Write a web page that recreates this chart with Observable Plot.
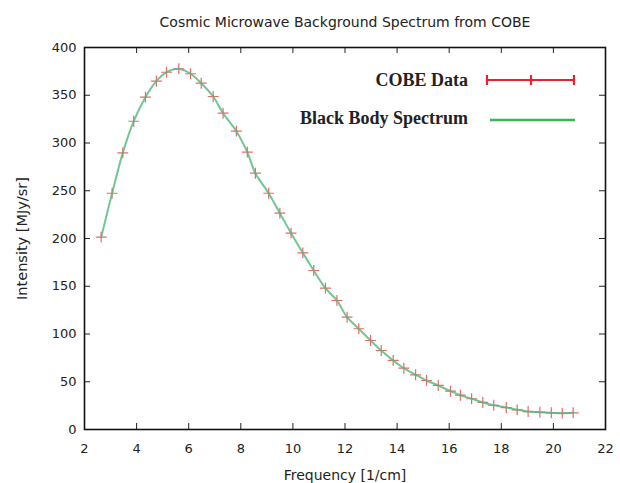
<!DOCTYPE html>
<html>
<head>
<meta charset="utf-8">
<script src="https://cdn.jsdelivr.net/npm/d3@7"></script>
<script src="https://cdn.jsdelivr.net/npm/@observablehq/plot@0.6"></script>
<style>
  html, body { margin: 0; padding: 0; background: #fff; }
</style>
</head>
<body>
<div id="chart"></div>
<script>
const title = "Cosmic Microwave Background Spectrum from COBE";
const xLabel = "Frequency [1/cm]";
const yLabel = "Intensity [MJy/sr]";
const seriesNames = ["COBE Data", "Black Body Spectrum"];

// COBE data (frequency in 1/cm, intensity in MJy/sr)
const frequency = [2.64, 3.06, 3.47, 3.89, 4.34, 4.76, 5.15, 5.62, 6.07, 6.48,
  6.94, 7.32, 7.83, 8.25, 8.56, 9.07, 9.50, 9.93, 10.38, 10.80,
  11.25, 11.69, 12.08, 12.53, 12.98, 13.39, 13.85, 14.26, 14.71, 15.13,
  15.58, 16.05, 16.43, 16.86, 17.29, 17.71, 18.19, 18.61, 19.03, 19.48,
  19.92, 20.34, 20.76];
const intensity = [201.4, 247.4, 289.7, 322.8, 348.0, 364.7, 374.1, 377.7, 372.5, 362.6,
  348.7, 331.2, 312.4, 290.4, 268.4, 247.4, 226.5, 205.6, 185.0, 166.5,
  148.0, 135.1, 117.6, 105.5, 93.2, 82.7, 72.3, 64.2, 57.3, 51.3,
  46.1, 40.1, 35.9, 32.2, 28.3, 25.4, 23.0, 20.6, 18.8, 18.1,
  17.5, 17.1, 17.5];
// Black body curve as seen in the picture (passes through the data)
const blackBody = [201.4, 247.4, 289.7, 322.8, 348.0, 364.7, 374.1, 377.7, 372.5, 362.6,
  348.7, 331.2, 312.4, 290.4, 268.4, 247.4, 226.5, 205.6, 185.0, 166.5,
  148.0, 135.1, 117.6, 105.5, 93.2, 82.7, 72.3, 64.2, 57.3, 51.3,
  46.1, 40.1, 35.9, 32.2, 28.3, 25.4, 23.0, 20.6, 18.8, 18.1,
  17.5, 17.1, 17.5];

const xTicks = [2, 4, 6, 8, 10, 12, 14, 16, 18, 20, 22];
const yTicks = [0, 50, 100, 150, 200, 250, 300, 350, 400];

const data = frequency.map((f, i) => ({f, v: intensity[i], bb: blackBody[i]}));

const W = 620, H = 483;
const mL = 84, mR = 15, mT = 47, mB = 54;
const plotW = W - mL - mR, plotH = H - mT - mB;
const tick = 6;
const red = "#e8232b", green = "#3fb35a";
const font = "DejaVu Sans, sans-serif";

const svg = Plot.plot({
  width: W, height: H,
  marginLeft: mL, marginRight: mR, marginTop: mT, marginBottom: mB,
  style: {fontFamily: font, fontSize: "13px", background: "#fff", color: "#222"},
  x: {domain: [2, 22], label: null},
  y: {domain: [0, 400], label: null},
  marks: [
    // inward ticks on all four sides
    Plot.tickX(xTicks, {x: d => d, insetTop: plotH - tick, stroke: "#222", strokeWidth: 1}),
    Plot.tickX(xTicks, {x: d => d, insetBottom: plotH - tick, stroke: "#222", strokeWidth: 1}),
    Plot.tickY(yTicks, {y: d => d, insetRight: plotW - tick, stroke: "#222", strokeWidth: 1}),
    Plot.tickY(yTicks, {y: d => d, insetLeft: plotW - tick, stroke: "#222", strokeWidth: 1}),
    Plot.axisX({ticks: xTicks, tickSize: 0, tickPadding: 14, tickFormat: d => d, fill: "#222"}),
    Plot.axisY({ticks: yTicks, tickSize: 0, tickPadding: 8, tickFormat: d => d, fill: "#222"}),
    Plot.dot(data, {x: "f", y: "v", symbol: "plus", r: 3.6, stroke: red, strokeWidth: 1.2, strokeOpacity: 0.7}),
    Plot.line(data, {x: "f", y: "bb", curve: "catmull-rom", stroke: "#4fb878", strokeWidth: 2, strokeOpacity: 0.8}),
    Plot.frame({stroke: "#111", strokeWidth: 1.6}),
    Plot.text([title], {frameAnchor: "top", dy: -30, fontSize: 14, fill: "#222"}),
    Plot.text([xLabel], {frameAnchor: "bottom", dy: 50, fontSize: 14, fill: "#222"}),
    Plot.text([yLabel], {frameAnchor: "left", dx: -62, rotate: -90, textAnchor: "middle", fontSize: 14.5, fill: "#222"})
  ]
});

// key (legend), gnuplot style, inside top-right
const g = d3.select(svg).append("g").attr("font-family", "Liberation Serif, Times New Roman, serif")
  .attr("font-weight", "bold").attr("font-size", 18).attr("fill", "#222");
g.append("text").attr("x", 468).attr("y", 86).attr("text-anchor", "end").text(seriesNames[0]);
g.append("text").attr("x", 468).attr("y", 124).attr("text-anchor", "end").text(seriesNames[1]);
const k = g.append("g").attr("stroke", red).attr("stroke-width", 2.2);
k.append("line").attr("x1", 487).attr("x2", 574).attr("y1", 80).attr("y2", 80);
[487, 531, 574].forEach(x => k.append("line").attr("x1", x).attr("x2", x).attr("y1", 75).attr("y2", 85));
g.append("line").attr("x1", 490).attr("x2", 575).attr("y1", 120).attr("y2", 120)
  .attr("stroke", green).attr("stroke-width", 2.5);

document.getElementById("chart").appendChild(svg);
</script>
</body>
</html>
